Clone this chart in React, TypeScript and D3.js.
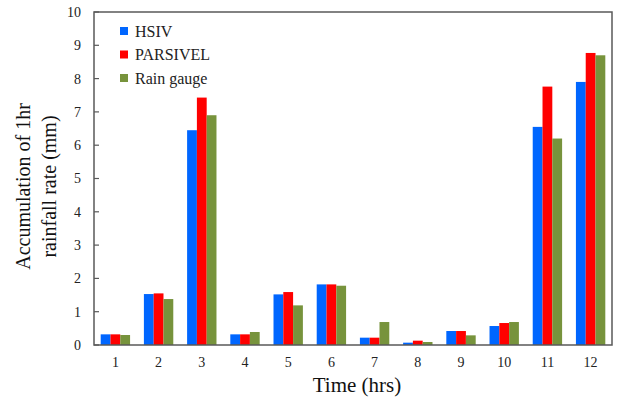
import React, { useRef, useEffect } from 'react';
import * as d3 from 'd3';

const hours = ['1', '2', '3', '4', '5', '6', '7', '8', '9', '10', '11', '12'];
const seriesNames = ['HSIV', 'PARSIVEL', 'Rain gauge'];
const hsiv = [0.32, 1.53, 6.45, 0.32, 1.52, 1.82, 0.22, 0.07, 0.42, 0.57, 6.55, 7.9];
const parsivel = [0.32, 1.55, 7.43, 0.32, 1.59, 1.82, 0.22, 0.13, 0.42, 0.66, 7.76, 8.77];
const rainGauge = [0.3, 1.38, 6.9, 0.39, 1.19, 1.78, 0.69, 0.09, 0.29, 0.69, 6.2, 8.7];
const yTicks = [0, 1, 2, 3, 4, 5, 6, 7, 8, 9, 10];
const colors = ['#0066ff', '#ff0000', '#77933c'];

const App = () => {
  const ref = useRef<SVGSVGElement>(null);

  useEffect(() => {
    const svg = d3.select(ref.current);
    svg.selectAll('*').remove();

    const width = 618;
    const height = 398;
    const left = 94;
    const right = 612;
    const top = 12;
    const bottom = 345;
    const font = '"Liberation Serif", "Times New Roman", serif';
    const axisColor = '#595959';

    svg.attr('width', width).attr('height', height);

    const values = [hsiv, parsivel, rainGauge];

    const x = d3.scaleBand().domain(hours).range([left, right]).paddingInner(0.32).paddingOuter(0.155);
    const xSub = d3.scaleBand().domain(seriesNames).range([0, x.bandwidth()]);
    const y = d3.scaleLinear().domain([0, 10]).range([bottom, top]);

    // bars
    hours.forEach((h, i) => {
      const g = svg.append('g').attr('transform', `translate(${x(h)},0)`);
      seriesNames.forEach((s, j) => {
        const v = values[j][i];
        g.append('rect')
          .attr('x', xSub(s))
          .attr('y', y(v))
          .attr('width', xSub.bandwidth())
          .attr('height', bottom - y(v))
          .attr('fill', colors[j]);
      });
    });

    // plot frame
    svg.append('rect')
      .attr('x', left)
      .attr('y', top)
      .attr('width', right - left)
      .attr('height', bottom - top)
      .attr('fill', 'none')
      .attr('stroke', axisColor)
      .attr('stroke-width', 1.5);

    // y ticks
    yTicks.forEach((t) => {
      svg.append('line')
        .attr('x1', left)
        .attr('x2', left + 5)
        .attr('y1', y(t))
        .attr('y2', y(t))
        .attr('stroke', axisColor)
        .attr('stroke-width', 1.2);
      svg.append('text')
        .attr('x', left - 13)
        .attr('y', y(t))
        .attr('dy', '0.35em')
        .attr('text-anchor', 'end')
        .style('font-family', font)
        .style('font-size', '14px')
        .attr('fill', '#222')
        .text(t);
    });

    // x labels
    hours.forEach((h) => {
      svg.append('text')
        .attr('x', (x(h) as number) + x.bandwidth() / 2)
        .attr('y', bottom + 22)
        .attr('text-anchor', 'middle')
        .style('font-family', font)
        .style('font-size', '14px')
        .attr('fill', '#222')
        .text(h);
    });

    // axis titles
    svg.append('text')
      .attr('x', 357)
      .attr('y', 392)
      .attr('text-anchor', 'middle')
      .style('font-family', font)
      .style('font-size', '21px')
      .attr('fill', '#111')
      .text('Time (hrs)');

    const yt = svg.append('text')
      .attr('transform', `translate(30,186.5) rotate(-90)`)
      .attr('text-anchor', 'middle')
      .style('font-family', font)
      .style('font-size', '20px')
      .attr('fill', '#111');
    yt.append('tspan').attr('x', 0).attr('y', 0).text('Accumulation of 1hr');
    yt.append('tspan').attr('x', 0).attr('y', 26).text('rainfall rate (mm)');

    // legend
    const legend = svg.selectAll('.legend')
      .data(seriesNames)
      .enter()
      .append('g')
      .attr('class', 'legend')
      .attr('transform', (d, i) => `translate(120, ${31 + i * 23.5})`);

    legend.append('rect')
      .attr('x', 0)
      .attr('y', -4)
      .attr('width', 8)
      .attr('height', 8)
      .style('fill', (d, i) => colors[i]);

    legend.append('text')
      .attr('x', 15)
      .attr('y', 0)
      .attr('dy', '0.35em')
      .style('font-family', font)
      .style('font-size', '16px')
      .attr('fill', '#222')
      .text((d) => d);
  }, []);

  return <svg ref={ref} style={{ position: 'absolute', left: 0, top: 0 }}></svg>;
};

export default App;
